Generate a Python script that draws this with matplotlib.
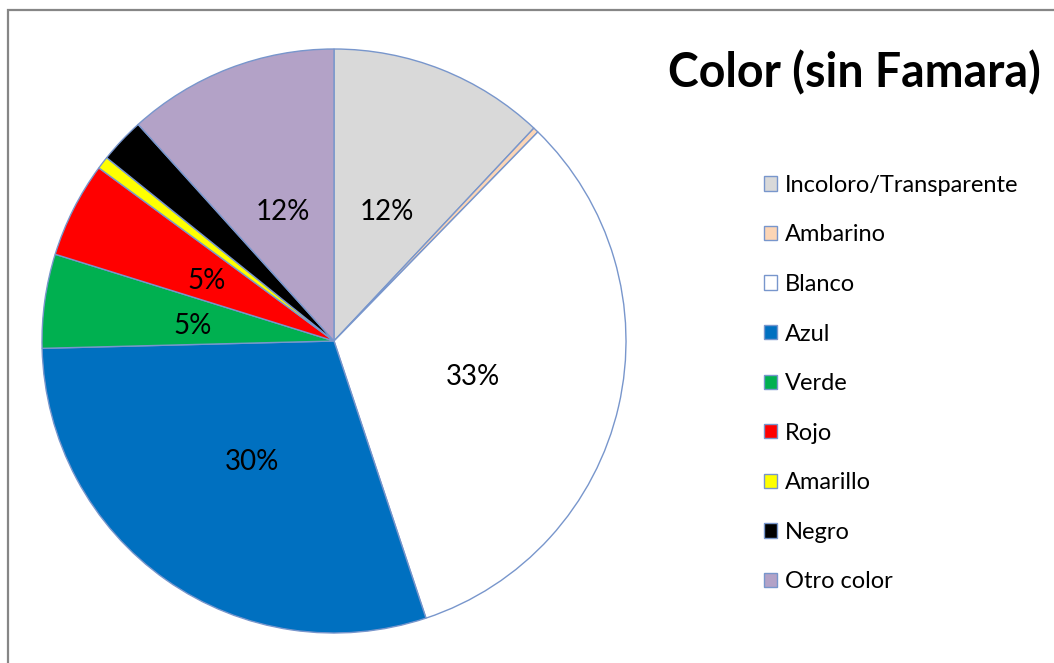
import matplotlib.pyplot as plt
from matplotlib.patches import Rectangle

plt.rcParams['font.family'] = ['Lato', 'DejaVu Sans']

## Data ##################################################################
labels = ['Incoloro/Transparente', 'Ambarino', 'Blanco', 'Azul', 'Verde',
          'Rojo', 'Amarillo', 'Negro', 'Otro color']
values = [12.0, 0.3, 32.6, 29.7, 5.2, 5.3, 0.7, 2.5, 11.7]
colors = ['#D9D9D9', '#FCD5B5', '#FFFFFF', '#0070C0', '#00B050',
          '#FF0000', '#FFFF00', '#000000', '#B3A2C7']
title = 'Color (sin Famara)'

## Figure ################################################################
W, H = 1054, 663
fig = plt.figure(figsize=(W / 100, H / 100), dpi=100)

# pie area, square in pixels
cx, cy, r = 334, 341, 292
ax = fig.add_axes([(cx - r) / W, (H - cy - r) / H, 2 * r / W, 2 * r / H])


def pct(p):
    return f'{p:.0f}%' if p >= 4 else ''


wedges, _, autotexts = ax.pie(values, colors=colors, startangle=90, counterclock=False,
                              autopct=pct, pctdistance=0.49, radius=1,
                              wedgeprops=dict(edgecolor='#7896CC', linewidth=1.0),
                              textprops=dict(fontsize=20, color='black'))
# labels sit a little lower than the wedge midpoint
for t in autotexts:
    x, y = t.get_position()
    t.set_position((x, y - 0.015))

ax.set_xlim(-1.0, 1.0)
ax.set_ylim(-1.0, 1.0)
ax.set_aspect('equal')
ax.axis('off')

# outer frame of the chart
fig.patches.append(Rectangle((8 / W, -0.1), 1.2, (H - 10) / H + 0.1,
                             transform=fig.transFigure, fill=False,
                             edgecolor='#868686', linewidth=1.6))

fig.text(668 / W, 1 - 73 / H, title, fontsize=33.5, fontweight='bold',
         ha='left', va='center')

leg = fig.legend(wedges, labels, loc='upper left', bbox_to_anchor=(752 / W, 1 - 163 / H),
                 frameon=False, fontsize=17, handlelength=0.55, handleheight=0.55,
                 handletextpad=0.35, labelspacing=1.21, borderpad=0)

fig.savefig('out.png', dpi=100)
